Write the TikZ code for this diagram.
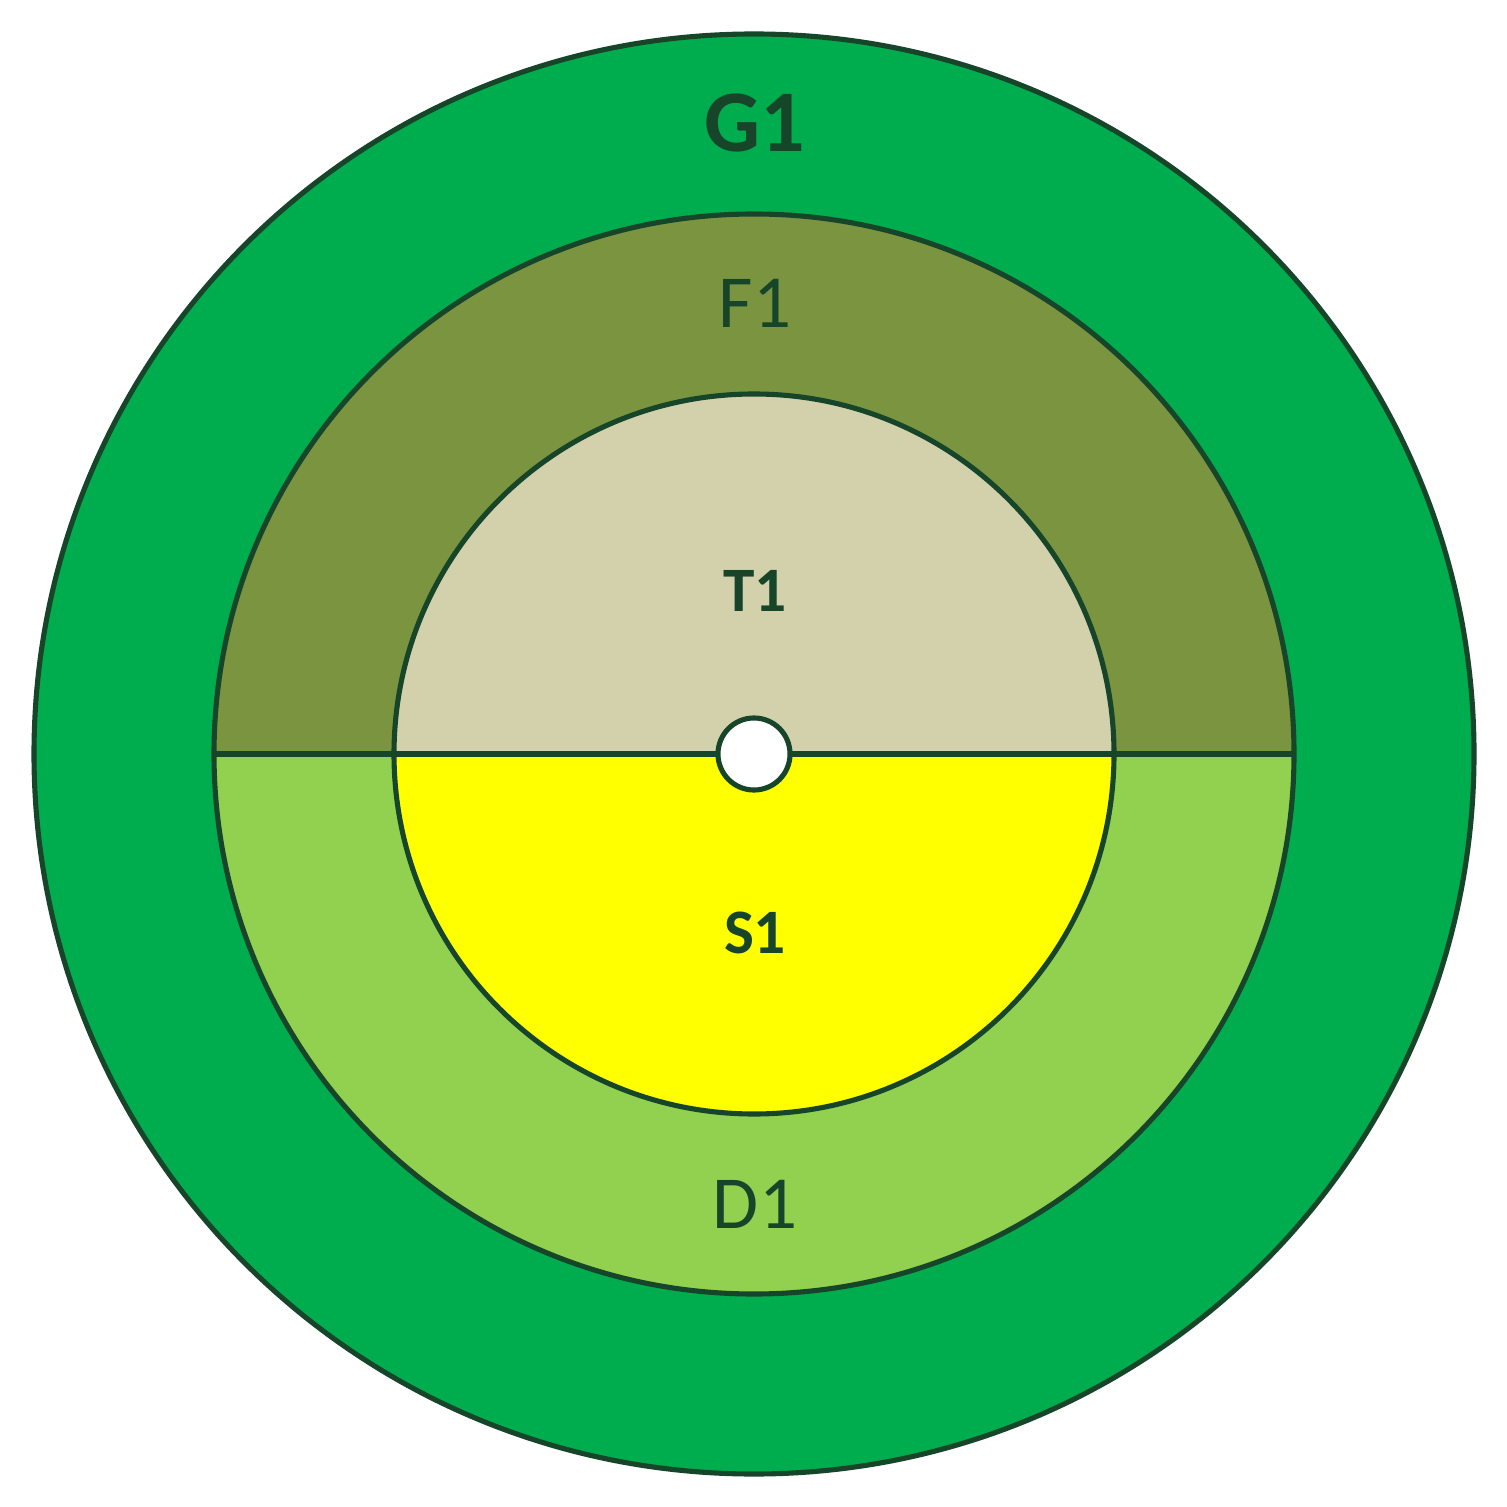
\documentclass[tikz,border=0pt]{standalone}
\usepackage{fontspec}
\setmainfont{Carlito}
\definecolor{lineC}{HTML}{17452A}
\definecolor{outerC}{HTML}{00AD4E}
\definecolor{fC}{HTML}{7A9440}
\definecolor{tC}{HTML}{D2D1AC}
\definecolor{dC}{HTML}{92D050}
\definecolor{sC}{HTML}{FFFF00}
\tikzset{
  ring/.style={draw=lineC, line width=1.45pt},
  lbl/.style={text=lineC, inner sep=0pt, anchor=base},
}
\begin{document}
\begin{tikzpicture}[x=0.01cm,y=-0.01cm]
\useasboundingbox (0,0) rectangle (1507,1507);
\coordinate (c) at (754,754);
% outer
\fill[outerC] (c) circle[radius=720];
\draw[ring] (c) circle[radius=720];
% middle halves (y axis points down)
\fill[fC] (214,754) arc[start angle=180,end angle=360,radius=540] -- cycle;
\fill[dC] (214,754) arc[start angle=180,end angle=0,radius=540] -- cycle;
% inner halves
\fill[tC] (394,754) arc[start angle=180,end angle=360,radius=360] -- cycle;
\fill[sC] (394,754) arc[start angle=180,end angle=0,radius=360] -- cycle;
\draw[ring] (c) circle[radius=540];
\draw[ring] (c) circle[radius=360];
\coordinate (l) at (214,754);
\coordinate (r) at (1294,754);
\draw[ring] (l) -- (r);
\node[circle, minimum size=0.72cm, inner sep=0pt, fill=white, ring] (hub) at (c) {};
% labels
\node[lbl, font=\fontsize{25}{30}\selectfont\bfseries] (g1) at (755,152) {G1};
\node[lbl, font=\fontsize{21.3}{26}\selectfont] (f1) at (755,328) {F1};
\node[lbl, font=\fontsize{18}{22}\selectfont\bfseries] (t1) at (755,612) {T1};
\node[lbl, font=\fontsize{18}{22}\selectfont\bfseries] (s1) at (755,953) {S1};
\node[lbl, font=\fontsize{21.3}{26}\selectfont] (d1) at (755,1228) {D1};
\end{tikzpicture}
\end{document}
